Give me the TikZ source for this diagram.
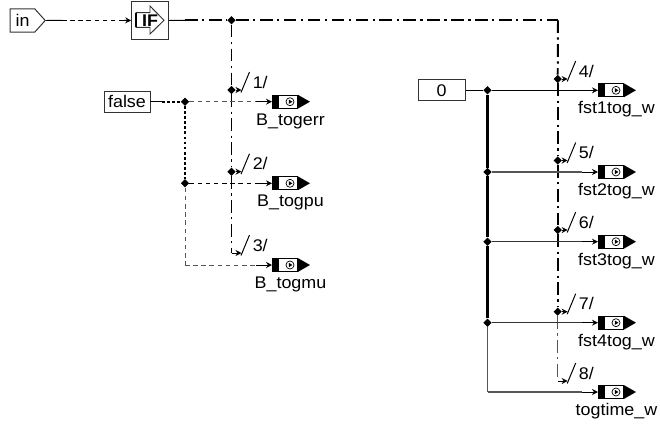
\documentclass[tikz,border=0pt]{standalone}
\usepackage{fontspec}
\setmainfont[FakeStretch=1.06]{Liberation Sans}
\usepackage{xcolor}
\usepackage{tikz}
\usetikzlibrary{
arrows.meta,
positioning,
shapes.geometric,
shapes.symbols,
calc
}
\definecolor{sigblack}{HTML}{000000}
\definecolor{siggray}{HTML}{555555}
\definecolor{boxgray}{HTML}{333333}

\newcommand{\outport}[3]{%
  \node[portbox, anchor=west] (#1) at (#2) {};
  \fill ($(#1.north west)$) rectangle ($(#1.south west)+(6.5,0)$);
  \fill (#1.north east) -- ($(#1.east)+(12,0)$) -- (#1.south east) -- cycle;
  \node[portdot] (#1-dot) at ($(#1.west)+(18,0)$) {};
  \fill ($(#1-dot)+(-1.2,-2.2)$) -- ($(#1-dot)+(2.4,0)$) -- ($(#1-dot)+(-1.2,2.2)$) -- cycle;
  \node[sigtext, anchor=base] (#1-name) at ($(#1.west)+(18.5,23.3)$) {#3};
  \coordinate (#1-in) at ($(#1.west)+(-16,0)$);
  \draw[sigline, tip] (#1-in) -- (#1.west);
}
\newcommand{\tapmark}[2]{%
  \coordinate (#1-end) at ($(#1)+(10,0)$);
  \draw[sigline, tip] (#1) -- (#1-end);
  \draw[sigline] ($(#1)+(9.5,2.5)$) -- ($(#1)+(18,-18)$);
  \node[sigtext, anchor=base west, inner sep=0pt] (#1-num) at ($(#1)+(21,-2)$) {#2};
}

\begin{document}
\begin{tikzpicture}[
  x=0.025cm, y=-0.025cm,
  sigtext/.style={font=\fontsize{12}{14}\selectfont, inner sep=0pt},
  sigbox/.style={draw=boxgray, line width=0.7pt, inner sep=0pt, font=\fontsize{12}{14}\selectfont},
  portbox/.style={draw, line width=0.7pt, fill=white, minimum width=0.625cm, minimum height=0.32cm, inner sep=0pt},
  portdot/.style={circle, draw, line width=0.5pt, fill=white, minimum size=0.2cm, inner sep=0pt},
  junc/.style={diamond, fill=black, minimum size=0.21cm, inner sep=0pt},
  sigline/.style={line width=0.7pt},
  tip/.style={-{Stealth[length=1.5mm,width=1.5mm]}},
  dashline/.style={line width=0.7pt, dash pattern=on 3.2pt off 2.6pt},
  dotline/.style={line width=1.4pt, dash pattern=on 2pt off 1.6pt},
  dotdash/.style={line width=1.4pt, dash pattern=on 9pt off 3.2pt on 1.6pt off 3.2pt},
  thindash/.style={line width=0.7pt, dash pattern=on 9pt off 3.2pt on 1.6pt off 3.2pt}
]
\useasboundingbox (0,0) rectangle (660,423);

%% Input and IF block
\node[sigbox, signal, signal to=east, signal pointer angle=96, minimum width=0.875cm,
      minimum height=0.58cm] (in) at (22.5,20.5) {in};
\node[sigbox, fill=white, minimum width=0.915cm, minimum height=0.94cm] (if) at (150,20.5) {};
\draw[line width=0.7pt, draw=boxgray] (136,12.7) -- (150,12.7) -- (150,6) -- (164,20.3)
  -- (150,34) -- (150,27.3) -- (136,27.3) -- cycle;
\draw[line width=1.2pt] (136,12.7) -- (136,27.3);
\node[sigtext, font=\bfseries\fontsize{12}{14}\selectfont] (iftext) at (150,20.3) {IF};

%% Line from input into IF
\coordinate (inA) at (62,20.3);
\coordinate (inB) at (124,20.3);
\draw[sigline] (in.east) -- (inA);
\draw[dashline] (inA) -- (inB);
\draw[sigline, tip] (inB) -- (if.west);

%% Control line of IF
\coordinate (ifA) at (185,20.3);
\coordinate (ifC) at (558,20.3);
\node[junc] (ifJ) at (231.5,20.3) {};
\draw[sigline] (if.east) -- (ifA);
\draw[dotdash] (ifA) -- (ifJ);
\draw[dotdash] (ifJ) -- (ifC);

%% Left tap points
\node[junc] (t1) at (231.5,90) {};
\node[junc] (t2) at (231.5,171.7) {};
\coordinate (t3) at (231.5,253);
\draw[thindash] (ifJ) -- (t1);
\draw[thindash] (t1) -- (t2);
\draw[thindash] (t2) -- (t3);
\tapmark{t1}{1/}
\tapmark{t2}{2/}
\tapmark{t3}{3/}

%% Right tap points
\node[junc] (t4) at (557.7,79) {};
\node[junc] (t5) at (557.7,160.5) {};
\node[junc] (t6) at (557.7,230) {};
\node[junc] (t7) at (557.7,311.7) {};
\coordinate (t8) at (557.7,381);
\draw[dotdash] (ifC) -- (t4);
\draw[dotdash] (t4) -- (t5);
\draw[dotdash] (t5) -- (t6);
\draw[dotdash] (t6) -- (t7);
\draw[thindash, siggray] (t7) -- (t8);
\tapmark{t4}{4/}
\tapmark{t5}{5/}
\tapmark{t6}{6/}
\tapmark{t7}{7/}
\tapmark{t8}{8/}

%% Constant false with outputs
\node[sigbox, minimum width=1.15cm, minimum height=0.53cm] (false) at (127,101.7) {false};
\outport{pErr}{272,101.7}{B\_togerr}
\outport{pPu}{272,183.3}{B\_togpu}
\outport{pMu}{272,265}{B\_togmu}
\coordinate (fA) at (162,101.7);
\node[junc] (fJ1) at (185,101.7) {};
\node[junc] (fJ2) at (185,183.3) {};
\coordinate (fC) at (185,265);
\draw[sigline] (false.east) -- (fA);
\draw[dotline] (fA) -- (fJ1);
\draw[dotline] (fJ1) -- (fJ2);
\draw[dashline, siggray] (fJ2) -- (fC);
\draw[dashline, siggray] (fC) -- (pMu-in);
\draw[dashline, siggray] (fJ1) -- (pErr-in);
\draw[dashline] (fJ2) -- (pPu-in);

%% Constant 0 with outputs
\node[sigbox, minimum width=1.175cm, minimum height=0.53cm] (zero) at (441.5,90.3) {0};
\outport{pF1}{598,90.3}{fst1tog\_w}
\outport{pF2}{598,172}{fst2tog\_w}
\outport{pF3}{598,241.7}{fst3tog\_w}
\outport{pF4}{598,322.7}{fst4tog\_w}
\outport{pTt}{598,392}{togtime\_w}
\node[junc] (zJ1) at (487.5,90.3) {};
\node[junc] (zJ2) at (487.5,172) {};
\node[junc] (zJ3) at (487.5,241.7) {};
\node[junc] (zJ4) at (487.5,322.7) {};
\coordinate (zC) at (487.5,392);
\draw[sigline] (zero.east) -- (zJ1);
\draw[line width=1.7pt] (zJ1) -- (zJ2);
\draw[line width=1.7pt] (zJ2) -- (zJ3);
\draw[line width=1.7pt] (zJ3) -- (zJ4);
\draw[line width=1pt, siggray] (zJ4) -- (zC);
\draw[line width=1pt, siggray] (zC) -- (pTt-in);
\draw[sigline] (zJ1) -- (pF1-in);
\draw[line width=1.1pt, siggray] (zJ2) -- (pF2-in);
\draw[line width=0.9pt, boxgray] (zJ3) -- (pF3-in);
\draw[line width=0.9pt, boxgray] (zJ4) -- (pF4-in);

\end{tikzpicture}
\end{document}
